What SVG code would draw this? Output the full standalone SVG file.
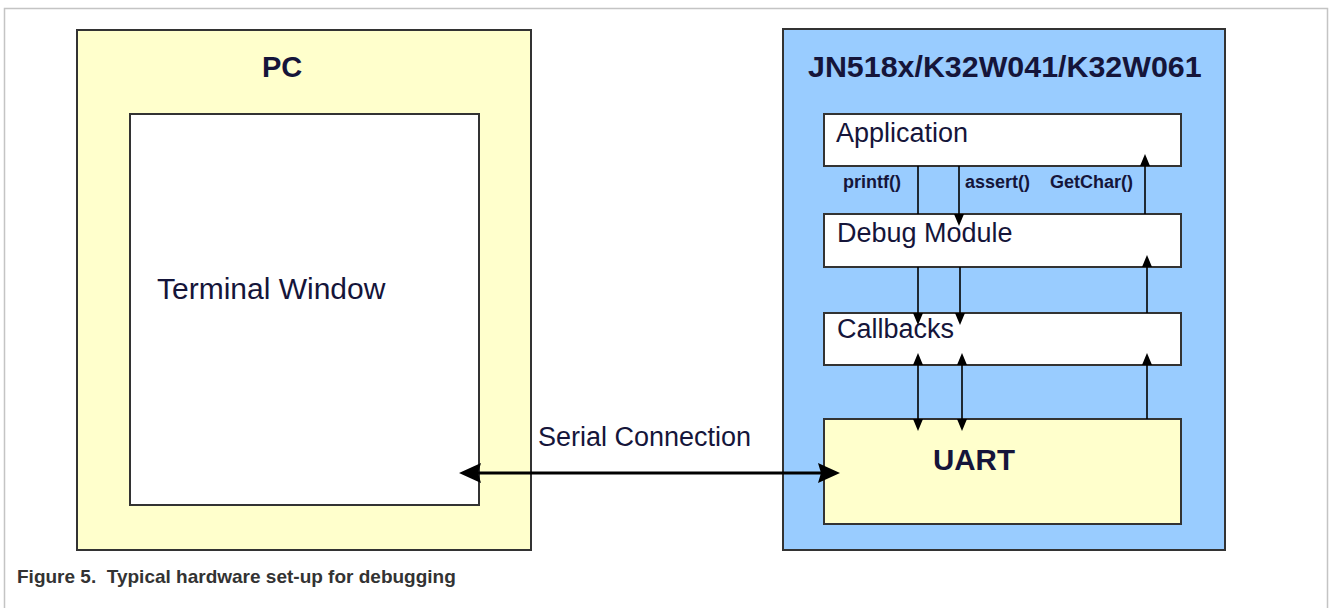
<svg xmlns="http://www.w3.org/2000/svg" width="1330" height="608" viewBox="0 0 1330 608">
<style>
.frame{fill:none;stroke:#c4c4c4;stroke-width:1.5}
.box{stroke:#333;stroke-width:2}
.yel{fill:#ffffcc}
.blu{fill:#99ccff}
.wht{fill:#ffffff}
.t{font-family:"Liberation Sans",Arial,sans-serif;fill:#15153a}
.b{font-weight:bold}
.ln{stroke:#000;stroke-width:1.6;fill:none}
.ser{stroke:#000;stroke-width:3.2;fill:none}
.sm{font-size:18px;font-weight:bold}
.cap{font-family:"Liberation Sans",Arial,sans-serif;font-weight:bold;font-size:19px;fill:#333;white-space:pre}
</style>
<defs>
<marker id="ah" viewBox="0 0 12 10" refX="0" refY="5" markerWidth="12" markerHeight="10" markerUnits="userSpaceOnUse" orient="auto-start-reverse">
<path d="M0,0 L12,5 L0,10 z" fill="#000"/>
</marker>
<marker id="big" viewBox="0 0 22 20" refX="3" refY="10" markerWidth="22" markerHeight="20" markerUnits="userSpaceOnUse" orient="auto-start-reverse">
<path d="M0,0 L22,10 L0,20 L3,10 z" fill="#000"/>
</marker>
</defs>
<path class="frame" d="M4.5,608 V8.5 H1327.5 V608"/>
<g id="pc">
<rect class="box yel" x="77" y="30" width="454" height="520"/>
<text class="t b" x="262" y="77" font-size="29">PC</text>
</g>
<g id="terminal">
<rect class="box wht" x="130" y="114" width="349" height="391"/>
<text class="t" x="157" y="299" font-size="30">Terminal Window</text>
</g>
<g id="device">
<rect class="box blu" x="783" y="29" width="442" height="521"/>
<text class="t b" x="808" y="77" font-size="30.4">JN518x/K32W041/K32W061</text>
</g>
<g id="application">
<rect class="box wht" x="824" y="114" width="357" height="52"/>
<text class="t" x="836" y="142" font-size="27">Application</text>
</g>
<g id="debug">
<rect class="box wht" x="824" y="214" width="357" height="53"/>
<text class="t" x="837" y="242" font-size="27">Debug Module</text>
</g>
<g id="callbacks">
<rect class="box wht" x="824" y="313" width="357" height="52"/>
<text class="t" x="837" y="338" font-size="27">Callbacks</text>
</g>
<g id="uart">
<rect class="box yel" x="824" y="419" width="357" height="105"/>
<text class="t b" x="933" y="470" font-size="29.5">UART</text>
</g>
<g id="connectors">
<line class="ln" x1="918" y1="166" x2="918" y2="214"/>
<line class="ln" x1="959" y1="166" x2="959" y2="214" marker-end="url(#ah)"/>
<line class="ln" x1="1145" y1="214" x2="1145" y2="166" marker-end="url(#ah)"/>
<line class="ln" x1="918" y1="267" x2="918" y2="313" marker-end="url(#ah)"/>
<line class="ln" x1="960" y1="267" x2="960" y2="313" marker-end="url(#ah)"/>
<line class="ln" x1="1147" y1="313" x2="1147" y2="267" marker-end="url(#ah)"/>
<line class="ln" x1="918" y1="365" x2="918" y2="419" marker-start="url(#ah)" marker-end="url(#ah)"/>
<line class="ln" x1="962" y1="365" x2="962" y2="419" marker-start="url(#ah)" marker-end="url(#ah)"/>
<line class="ln" x1="1147" y1="419" x2="1147" y2="365" marker-end="url(#ah)"/>
<line class="ser" x1="478" y1="473" x2="821" y2="473" marker-start="url(#big)" marker-end="url(#big)"/>
<text class="t" x="538" y="446" font-size="27">Serial Connection</text>
<text class="t sm" x="843" y="188">printf()</text>
<text class="t sm" x="965" y="188">assert()</text>
<text class="t sm" x="1050" y="188">GetChar()</text>
</g>
<text class="cap" x="17" y="583">Figure 5.  Typical hardware set-up for debugging</text>
</svg>
